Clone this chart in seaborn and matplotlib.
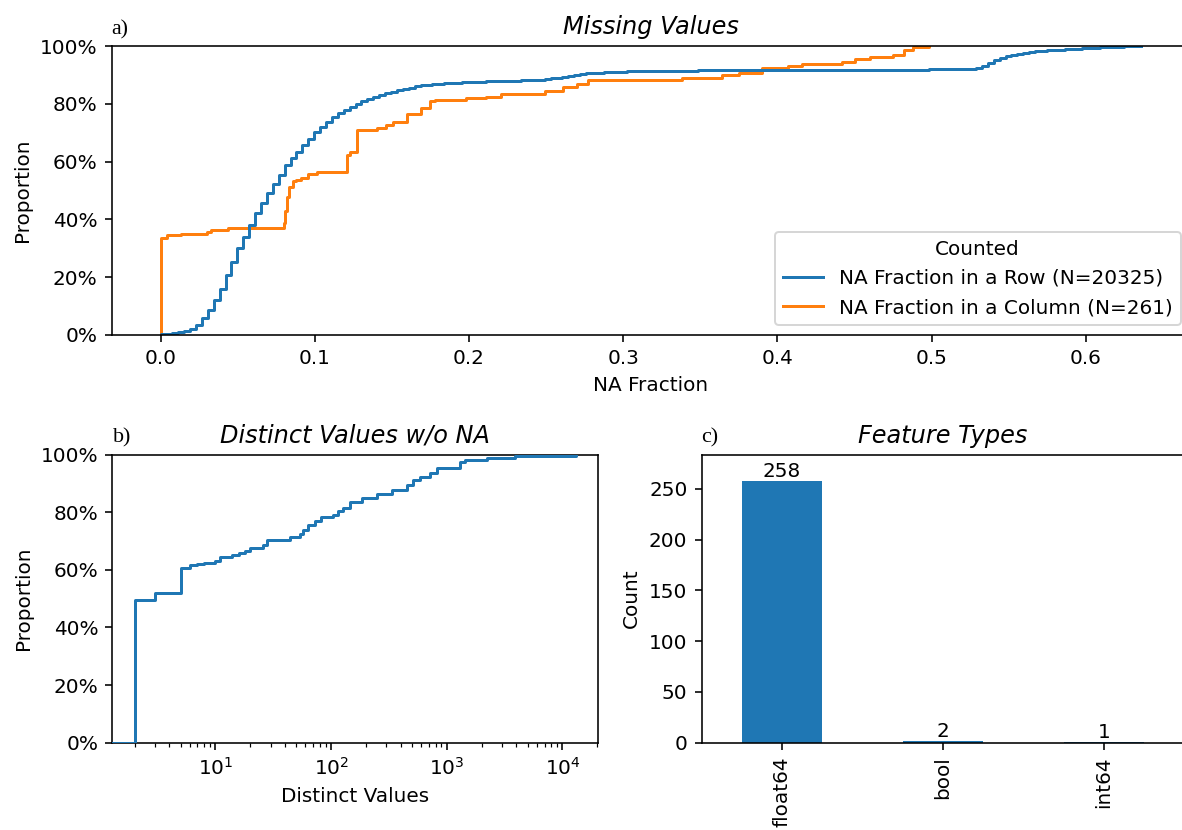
import numpy as np
import pandas as pd
import matplotlib
matplotlib.use("Agg")
import matplotlib.pyplot as plt
from matplotlib.ticker import PercentFormatter
import seaborn as sns

N_COLUMNS = 261

# Number of missing columns in a row, and how many rows have that many
row_na_counts = [0, 1, 2, 3, 4, 5, 6, 7, 8, 9, 10, 11, 12, 13, 14, 15, 16, 17,
                 18, 19, 20, 21, 22, 23, 24, 25, 26, 27, 28, 29, 30, 31, 32, 33,
                 34, 35, 36, 37, 38, 39, 40, 41, 42, 43, 44,
                 45, 46, 47, 48, 49, 50, 51, 52, 53, 54,
                 55, 56, 57, 58, 59, 60, 61, 62, 63,
                 64, 65, 66, 67, 68, 69, 70, 71, 72,
                 73, 74, 75, 76, 77, 78, 79, 80,
                 82, 85, 88, 91, 94, 97, 100, 103, 106, 109, 112, 115, 118,
                 121, 124, 127, 130, 133, 136,
                 137,
                 138, 139, 140, 141,
                 142, 143, 144, 145, 146,
                 147, 148, 149, 150, 151, 152, 153,
                 154, 155, 156, 157, 158, 159,
                 160, 161, 162, 163, 164, 165, 166]
row_freq = [41, 41, 41, 61, 81, 183, 264, 467, 589, 691, 793, 976, 935, 935,
            813, 813, 833, 752, 650, 650, 650, 691, 467, 467, 467, 467, 427,
            407, 346, 305, 285, 244, 224, 203, 183, 163, 142, 122, 122, 122,
            102, 102, 81, 81, 81,
            41, 36, 32, 30, 28, 26, 22, 20, 16, 14,
            10, 10, 10, 11, 11, 12, 12, 13, 13,
            30, 40, 50, 60, 65, 65, 60, 52, 45,
            30, 26, 24, 20, 18, 16, 15, 14,
            12, 12, 11, 10, 9, 8, 8, 7, 6, 6, 5, 5, 4, 4, 3, 3, 3, 3, 3,
            20,
            80, 150, 200, 220,
            150, 120, 95, 78, 65,
            50, 42, 36, 30, 26, 22, 18,
            30, 27, 24, 22, 20, 19,
            20, 18, 16, 14, 13, 11, 10]

# Fraction of missing rows in a column, and how many columns share it
col_na_fraction = [0.0, 0.0043, 0.013, 0.030, 0.033, 0.044, 0.0798, 0.0805,
                   0.082, 0.0835, 0.086, 0.088, 0.091, 0.0954, 0.1015, 0.121,
                   0.123, 0.1275, 0.1405, 0.146, 0.151, 0.160, 0.169, 0.175,
                   0.178, 0.198, 0.211, 0.221, 0.249, 0.261, 0.270, 0.277,
                   0.338, 0.364, 0.375, 0.390, 0.407, 0.416, 0.442, 0.450,
                   0.460, 0.475, 0.482, 0.488, 0.4985]
col_freq = [88, 2, 1, 2, 2, 2, 4, 11, 13, 9, 5, 1, 2, 3, 2, 16, 2, 20, 2, 3, 2,
            8, 5, 6, 1, 2, 1, 3, 2, 4, 3, 3, 2, 3, 2, 4, 2, 2, 2, 2, 2, 2, 4,
            3, 1]

# Distinct non-missing values per column
distinct_values = [2, 3, 5, 6, 7, 8, 10, 11, 14, 16, 18, 20, 26, 28, 44, 54,
                   57, 63, 72, 82, 104, 115, 127, 145, 184, 248, 334, 451, 514,
                   588, 718, 820, 1306, 1445, 2228, 3920, 13000]
distinct_freq = [129, 7, 22, 3, 1, 1, 2, 3, 2, 2, 2, 2, 3, 5, 2, 3, 4, 4, 4, 3,
                 2, 4, 3, 5, 4, 3, 4, 4, 5, 3, 3, 5, 5, 2, 2, 2, 1]

# Column dtypes
dtype_names = ["float64", "bool", "int64"]
dtype_counts = [258, 2, 1]

row_label = f"NA Fraction in a Row (N={sum(row_freq)})"
col_label = f"NA Fraction in a Column (N={sum(col_freq)})"
na_df = pd.concat([
    pd.DataFrame({"NA Fraction": np.array(row_na_counts) / N_COLUMNS,
                  "weight": row_freq, "Counted": row_label}),
    pd.DataFrame({"NA Fraction": col_na_fraction,
                  "weight": col_freq, "Counted": col_label}),
], ignore_index=True)

W, H = 1182, 830
fig = plt.figure(figsize=(W / 144, H / 144), dpi=144)

def rect(x0, y0, x1, y1):
    return [x0 / W, (H - y1) / H, (x1 - x0) / W, (y1 - y0) / H]

ax_top = fig.add_axes(rect(111.5, 46, 1190.5, 335))
ax_bl = fig.add_axes(rect(112.5, 454.5, 597.7, 742.7))
ax_br = fig.add_axes(rect(701.5, 454.5, 1184.5, 742.7))

label_font = dict(fontfamily="Liberation Serif", fontsize=11)

# a) missing values ECDF
sns.ecdfplot(data=na_df, x="NA Fraction", hue="Counted", weights="weight",
             ax=ax_top)
sns.move_legend(ax_top, "lower right")
ax_top.yaxis.set_major_formatter(PercentFormatter(1, decimals=0))
ax_top.set_title("Missing Values", fontstyle="italic")
ax_top.set_title("a)", loc="left", **label_font)

# b) distinct values ECDF (log x)
sns.ecdfplot(x=distinct_values, weights=distinct_freq, log_scale=True, ax=ax_bl)
xlim_bl = ax_bl.get_xlim()
# the ECDF starts at -inf; start the zero baseline at the left edge of
# the axis and keep the curve drawn above the spines
ecdf_line = ax_bl.lines[0]
xd = np.asarray(ecdf_line.get_xdata(), float)
yd = np.asarray(ecdf_line.get_ydata(), float)
keep = np.isfinite(xd) & (xd > 0)
ecdf_line.set_data(np.r_[xlim_bl[0], xd[keep]], np.r_[0.0, yd[keep]])
ecdf_line.set_zorder(2.6)
ax_bl.set_xlim(xlim_bl)
ax_bl.set_xlabel("Distinct Values")
ax_bl.yaxis.set_major_formatter(PercentFormatter(1, decimals=0))
ax_bl.set_title("Distinct Values w/o NA", fontstyle="italic")
ax_bl.set_title("b)", loc="left", **label_font)

# c) feature types
sns.barplot(x=dtype_names, y=dtype_counts, color="C0", saturation=1,
            width=0.5, ax=ax_br)
ax_br.bar_label(ax_br.containers[0])
ax_br.set_ylim(0, max(dtype_counts) * 1.1)
ax_br.set_ylabel("Count")
ax_br.tick_params(axis="x", labelrotation=90)
ax_br.set_title("Feature Types", fontstyle="italic")
ax_br.set_title("c)", loc="left", **label_font)

fig.savefig("out.png", dpi=144)
